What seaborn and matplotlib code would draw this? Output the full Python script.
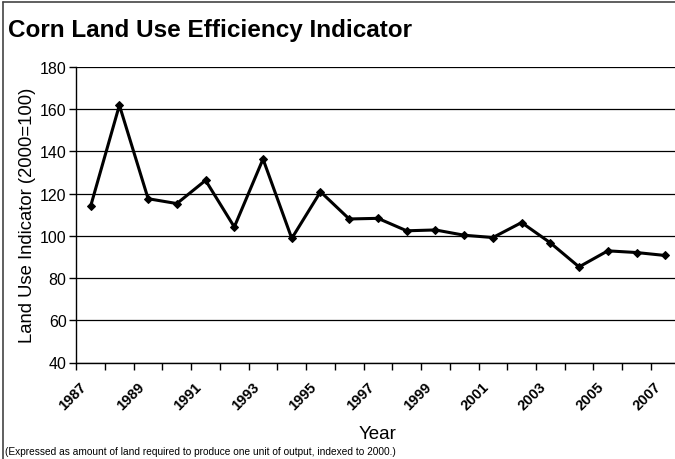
import numpy as np
import pandas as pd
import seaborn as sns
import matplotlib.pyplot as plt
import matplotlib.transforms as mtrans
from matplotlib.lines import Line2D

years = list(range(1987, 2008))
land_use = [114.1, 161.9, 117.6, 115.3, 126.3, 104.2, 136.4, 98.8, 120.9, 108.0,
            108.3, 102.4, 102.8, 100.3, 99.2, 106.3, 96.7, 85.3, 92.9, 92.1, 90.7]
year_labels = [str(y) for y in range(1987, 2008, 2)]
y_ticks = [40, 60, 80, 100, 120, 140, 160, 180]

df = pd.DataFrame({'Year': years, 'Index': land_use})

sns.set_theme(style='white')
plt.rcParams['font.family'] = ['Liberation Sans', 'DejaVu Sans']
plt.rcParams['text.color'] = 'black'
plt.rcParams['axes.labelcolor'] = 'black'
plt.rcParams['xtick.color'] = 'black'
plt.rcParams['ytick.color'] = 'black'

W, H = 675, 460
fig = plt.figure(figsize=(W / 100, H / 100), dpi=100)
# axes runs slightly past the right edge, like the cropped original
ax = fig.add_axes([76.3 / W, (H - 363.5) / H, 603.3 / W, 295.5 / H])

sns.lineplot(data=df, x='Year', y='Index', ax=ax, color='black', lw=2.2,
             marker='D', markersize=4.5, markeredgecolor='black')

ax.set_xlim(1986.5, 2007.5)
ax.set_ylim(40, 180)
ax.set_yticks(y_ticks)
ax.set_yticklabels([str(v) for v in y_ticks], fontsize=11.5)
ax.yaxis.grid(True, color='black', lw=0.9)
ax.set_axisbelow(True)

ax.set_xticks([int(s) for s in year_labels])
ax.set_xticklabels(year_labels, rotation=45, ha='right', va='top',
                   rotation_mode='anchor', fontsize=10.5, fontweight='bold')
ax.set_xticks(np.arange(1986.5, 2008, 1), minor=True)
ax.tick_params(axis='x', which='major', length=0, pad=12)
ax.tick_params(axis='x', which='minor', length=5, width=1, color='black', bottom=True)
ax.tick_params(axis='y', length=5, width=1, color='black', left=True, pad=2)

for side in ['top', 'right']:
    ax.spines[side].set_visible(False)
for side in ['left', 'bottom']:
    ax.spines[side].set_color('black')
    ax.spines[side].set_linewidth(1)

ax.set_xlabel('')
ax.set_ylabel('Land Use Indicator (2000=100)', fontsize=13.3, labelpad=3)

fig.text(8 / W, 1 - 30 / H, 'Corn Land Use Efficiency Indicator', fontsize=17.5,
         fontweight='bold', va='center', ha='left')
fig.text(378 / W, 1 - 435 / H, 'Year', fontsize=13.5, va='center', ha='center')
fig.text(5 / W, 1 - 452 / H,
         '(Expressed as amount of land required to produce one unit of output, indexed to 2000.)',
         fontsize=7.3, va='center', ha='left')

# outer chart frame (left and top edges visible in the cropped original)
fig.add_artist(Line2D([2.5 / W, 2.5 / W], [0, 1 - 2.5 / H], transform=fig.transFigure,
                      color='#444444', lw=1.2))
fig.add_artist(Line2D([2.5 / W, 1], [1 - 2.5 / H, 1 - 2.5 / H], transform=fig.transFigure,
                      color='#444444', lw=1.2))

# nudge the slanted year labels left so they end just short of the category centre
fig.canvas.draw()
shift = mtrans.ScaledTranslation(-11 / 100, 0, fig.dpi_scale_trans)
for tick in ax.xaxis.get_major_ticks():
    tick.label1.set_transform(tick.label1.get_transform() + shift)

fig.savefig('out.png', dpi=100, facecolor='white')
